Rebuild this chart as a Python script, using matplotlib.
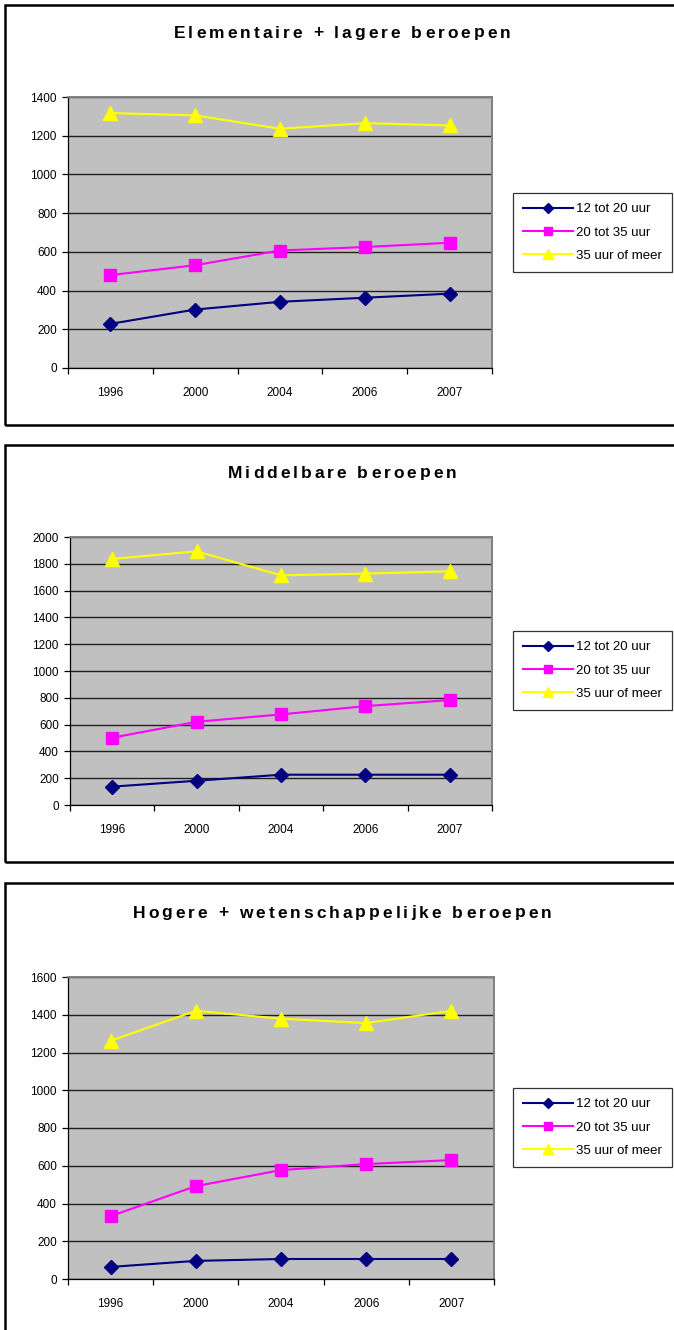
import matplotlib
matplotlib.use("Agg")
import matplotlib.pyplot as plt
from matplotlib.patches import Rectangle

years = ["1996", "2000", "2004", "2006", "2007"]
series_names = ["12 tot 20 uur", "20 tot 35 uur", "35 uur of meer"]

titles = ["Elementaire + lagere beroepen",
          "Middelbare beroepen",
          "Hogere + wetenschappelijke beroepen"]

elem_12_20 = [228, 302, 342, 363, 384]
elem_20_35 = [480, 531, 607, 625, 647]
elem_35_plus = [1317, 1305, 1236, 1265, 1253]

midd_12_20 = [137, 181, 226, 226, 226]
midd_20_35 = [502, 621, 676, 738, 783]
midd_35_plus = [1836, 1893, 1714, 1727, 1744]

hoog_12_20 = [64, 96, 106, 106, 106]
hoog_20_35 = [333, 492, 577, 609, 630]
hoog_35_plus = [1262, 1421, 1379, 1356, 1421]

ymax = [1400, 2000, 1600]
ystep = [200, 200, 200]

W, H = 674, 1330
plt.rcParams['font.family'] = ['Liberation Sans', 'DejaVu Sans']
fig = plt.figure(figsize=(W / 100, H / 100), dpi=100)
renderer = fig.canvas.get_renderer()


def spaced_text(xc, yc, s, size, spacing):
    # draw text with extra letter spacing (pixels), centred at (xc, yc) pixel coords (top-origin)
    widths = []
    for ch in s:
        if ch == " ":
            t1 = fig.text(0, 0, "a a", fontsize=size, fontweight="bold")
            t2 = fig.text(0, 0, "aa", fontsize=size, fontweight="bold")
            w = t1.get_window_extent(renderer).width - t2.get_window_extent(renderer).width
            t1.remove(); t2.remove()
        else:
            t = fig.text(0, 0, ch, fontsize=size, fontweight="bold")
            w = t.get_window_extent(renderer).width
            t.remove()
        widths.append(w)
    total = sum(widths) + spacing * (len(s) - 1)
    x = xc - total / 2
    for ch, w in zip(s, widths):
        if ch != " ":
            fig.text(x / W, 1 - yc / H, ch, fontsize=size, fontweight="bold",
                     ha="left", va="center")
        x += w + spacing


# layout in pixels: (box_top, box_bottom, title_y, ax_left, ax_right, ax_top, ax_bottom, legend_top)
layouts = [
    (5, 425, 33, 68, 492, 97, 368, 193),
    (445, 862, 473, 70, 492, 537, 805, 631),
    (883, 1340, 913, 68, 494, 977, 1279, 1088),
]

data = [
    (elem_12_20, elem_20_35, elem_35_plus),
    (midd_12_20, midd_20_35, midd_35_plus),
    (hoog_12_20, hoog_20_35, hoog_35_plus),
]

colors = ["#000080", "#FF00FF", "#FFFF00"]
markers = ["D", "s", "^"]
msizes = [7.5, 8, 10]

for i, (bt, bb, ty, al, ar, at, ab, lt) in enumerate(layouts):
    fig.patches.append(Rectangle((5 / W, 1 - bb / H), (W + 10 - 5) / W, (bb - bt) / H,
                                 transform=fig.transFigure, fill=False,
                                 edgecolor="black", linewidth=1.8, zorder=0))
    spaced_text(342, ty, titles[i], 12.5, 3.0)
    ax = fig.add_axes([al / W, 1 - ab / H, (ar - al) / W, (ab - at) / H])
    ax.set_facecolor("#C0C0C0")
    x = list(range(len(years)))
    handles = []
    for j, vals in enumerate(data[i]):
        ln, = ax.plot(x, vals, color=colors[j], marker=markers[j],
                      markersize=msizes[j], linewidth=1.5,
                      markeredgecolor=colors[j], clip_on=False, zorder=3)
        handles.append(ln)
    ax.set_xlim(-0.5, len(years) - 0.5)
    ax.set_ylim(0, ymax[i])
    ax.set_yticks(range(0, ymax[i] + 1, ystep[i]))
    ax.yaxis.grid(True, color="#202020", linewidth=1.0)
    ax.set_axisbelow(True)
    ax.set_xticks(x)
    ax.set_xticklabels(years)
    ax.set_xticks([k - 0.5 for k in range(len(years) + 1)], minor=True)
    ax.tick_params(axis="x", which="major", length=0, pad=14, labelsize=8.5)
    ax.tick_params(axis="x", which="minor", length=4, width=0.9, direction="out")
    ax.tick_params(axis="y", length=4, width=0.9, direction="out", labelsize=8.5, pad=4)
    for s in ["top", "right"]:
        ax.spines[s].set_color("#808080")
        ax.spines[s].set_linewidth(1.4)
    for s in ["left", "bottom"]:
        ax.spines[s].set_color("black")
        ax.spines[s].set_linewidth(0.9)
    leg = fig.legend(handles, series_names, loc="upper left",
                     bbox_to_anchor=(513 / W, 1 - lt / H),
                     bbox_transform=fig.transFigure,
                     fontsize=9.5, frameon=True, fancybox=False,
                     edgecolor="black", handlelength=3.8, numpoints=1,
                     borderpad=0.75, labelspacing=0.85, handletextpad=0.25,
                     borderaxespad=0, markerscale=0.7)
    leg.get_frame().set_linewidth(0.9)

fig.savefig("out.png", dpi=100)
